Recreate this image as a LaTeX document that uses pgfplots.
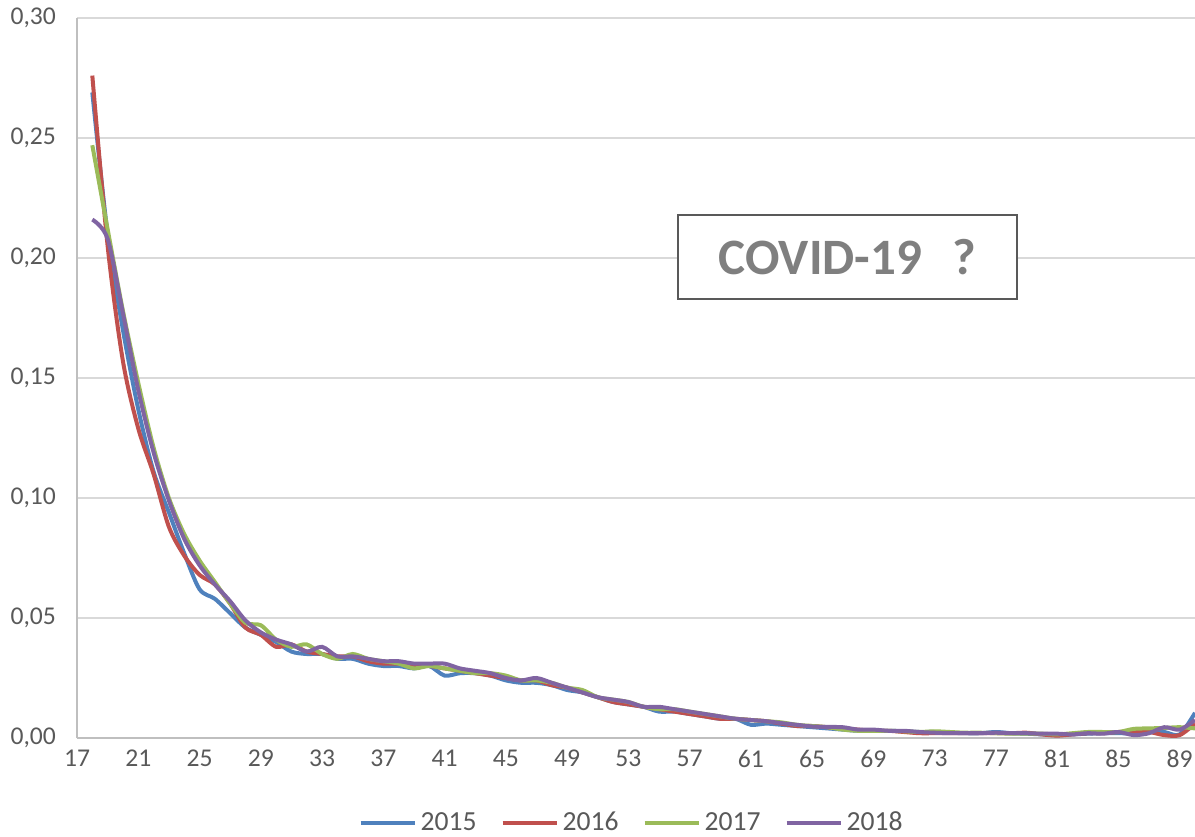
\documentclass[border=0pt]{standalone}
\usepackage{fontspec}
\setmainfont{Carlito}
\usepackage{pgfplots}
\pgfplotsset{compat=1.18}
\usepackage{pgfplotstable}

\definecolor{c15}{HTML}{4F81BD}
\definecolor{c16}{HTML}{C0504D}
\definecolor{c17}{HTML}{9BBB59}
\definecolor{c18}{HTML}{8064A2}
\definecolor{txt}{HTML}{595959}
\definecolor{gridc}{HTML}{D9D9D9}
\definecolor{axc}{HTML}{BFBFBF}
\definecolor{boxtxt}{HTML}{7F7F7F}

% age  2015  2016  2017  2018
\pgfplotstableread{
age y15 y16 y17 y18
18 0.269 0.276 0.247 0.216
19 0.210 0.205 0.212 0.208
20 0.170 0.157 0.178 0.177
21 0.137 0.129 0.148 0.145
22 0.111 0.110 0.121 0.119
23 0.094 0.088 0.100 0.099
24 0.077 0.076 0.085 0.083
25 0.062 0.068 0.074 0.072
26 0.058 0.064 0.065 0.064
27 0.052 0.056 0.056 0.057
28 0.046 0.046 0.048 0.049
29 0.043 0.043 0.047 0.044
30 0.040 0.038 0.041 0.041
31 0.036 0.039 0.038 0.039
32 0.035 0.036 0.039 0.036
33 0.035 0.035 0.035 0.038
34 0.033 0.034 0.033 0.034
35 0.033 0.034 0.035 0.034
36 0.031 0.032 0.033 0.033
37 0.030 0.031 0.032 0.032
38 0.030 0.031 0.031 0.032
39 0.029 0.030 0.029 0.031
40 0.030 0.030 0.030 0.031
41 0.026 0.029 0.029 0.031
42 0.027 0.028 0.028 0.029
43 0.027 0.027 0.027 0.028
44 0.026 0.026 0.027 0.027
45 0.024 0.025 0.026 0.025
46 0.023 0.024 0.024 0.024
47 0.023 0.024 0.024 0.025
48 0.022 0.022 0.023 0.023
49 0.020 0.021 0.021 0.021
50 0.019 0.019 0.020 0.019
51 0.017 0.017 0.017 0.017
52 0.015 0.015 0.016 0.016
53 0.014 0.014 0.015 0.015
54 0.013 0.013 0.013 0.013
55 0.011 0.012 0.012 0.013
56 0.011 0.011 0.012 0.012
57 0.010 0.010 0.011 0.011
58 0.009 0.009 0.010 0.010
59 0.008 0.008 0.009 0.009
60 0.008 0.008 0.008 0.008
61 0.0055 0.0075 0.0075 0.0075
62 0.006 0.007 0.007 0.007
63 0.0055 0.006 0.0065 0.0062
64 0.005 0.005 0.0055 0.0055
65 0.0045 0.005 0.005 0.0048
66 0.004 0.0045 0.0045 0.0046
67 0.0035 0.004 0.0035 0.0045
68 0.003 0.0035 0.003 0.0035
69 0.003 0.003 0.003 0.0035
70 0.003 0.003 0.003 0.003
71 0.0028 0.0025 0.0028 0.003
72 0.0025 0.002 0.0025 0.0025
73 0.0025 0.002 0.0028 0.0022
74 0.0022 0.002 0.0025 0.002
75 0.002 0.002 0.0022 0.002
76 0.002 0.002 0.0022 0.002
77 0.0025 0.002 0.002 0.0022
78 0.002 0.002 0.0018 0.002
79 0.0018 0.0022 0.0018 0.002
80 0.0015 0.0015 0.0018 0.0018
81 0.0012 0.001 0.0015 0.0018
82 0.0015 0.0015 0.002 0.0015
83 0.0018 0.002 0.0025 0.002
84 0.002 0.002 0.0025 0.0018
85 0.002 0.0025 0.0025 0.0025
86 0.002 0.0025 0.0038 0.0012
87 0.0028 0.0025 0.004 0.002
88 0.0025 0.0012 0.0042 0.0045
89 0.0015 0.0012 0.0045 0.0035
90 0.0105 0.006 0.004 0.0075
}\mortality

\begin{document}
\begin{tikzpicture}
\begin{axis}[
    scale only axis,
    width=559pt, height=360pt,
    xmin=17, xmax=90,
    ymin=0, ymax=0.30,
    xtick={17,21,...,89},
    ytick={0,0.05,0.1,0.15,0.2,0.25,0.3},
    major tick length=0pt,
    axis lines*=left,
    axis line style={-, draw=axc, line width=0.75pt},
    ymajorgrids,
    major grid style={draw=gridc, line width=0.75pt},
    tick label style={font=\fontsize{12.8}{14}\selectfont, text=txt},
    /pgf/number format/assume math mode=true,
    scaled y ticks=false,
    xticklabel style={yshift=-2.5pt},
    yticklabel style={xshift=-7pt, /pgf/number format/.cd, fixed, fixed zerofill,
        precision=2, use comma},
    legend style={at={(0.497,-0.118)}, anchor=center, draw=none, fill=none,
        legend columns=4, font=\fontsize{13.8}{16}\selectfont, text=txt,
        /tikz/every even column/.append style={column sep=10pt}},
    legend image code/.code={\draw[#1, line width=2pt] (0pt,0pt) -- (27pt,0pt);},
    every axis plot/.append style={line width=2pt, smooth, no markers},
]
\addplot[c15] table[x=age, y=y15] {\mortality};
\addlegendentry{2015}
\addplot[c16] table[x=age, y=y16] {\mortality};
\addlegendentry{2016}
\addplot[c17] table[x=age, y=y17] {\mortality};
\addlegendentry{2017}
\addplot[c18] table[x=age, y=y18] {\mortality};
\addlegendentry{2018}

\node[draw=txt, fill=white, line width=0.8pt, minimum width=169.5pt,
    minimum height=42pt, text=boxtxt, font=\fontsize{25.5}{30}\selectfont\bfseries]
    at (axis cs:67.31,0.2004) {COVID-19\hspace{0.6em}?};
\end{axis}
\pgfresetboundingbox
\path[use as bounding box] (-38.5pt,-49pt) rectangle (559pt,369pt);
\end{tikzpicture}
\end{document}
